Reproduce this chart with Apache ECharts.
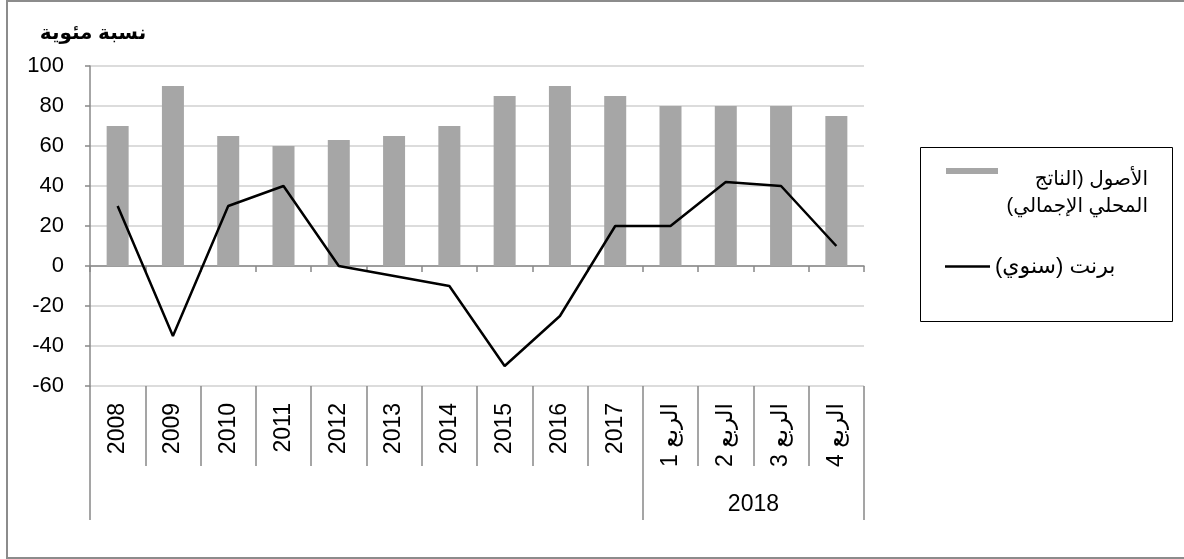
<!DOCTYPE html>
<html dir="rtl">
<head>
<meta charset="utf-8">
<script src="https://cdn.jsdelivr.net/npm/echarts@6/dist/echarts.min.js"></script>
<style>
  html, body { margin: 0; padding: 0; background: #fff; }
  #chart { width: 1184px; height: 559px; }
</style>
</head>
<body>
<div id="chart"></div>
<script>
// categories and values
var categories = ['2008', '2009', '2010', '2011', '2012', '2013', '2014', '2015', '2016', '2017',
                  'الربع 1', 'الربع 2', 'الربع 3', 'الربع 4'];
var assets = [70, 90, 65, 60, 63, 65, 70, 85, 90, 85, 80, 80, 80, 75];
var brent = [30, -35, 30, 40, 0, -5, -10, -50, -25, 20, 20, 42, 40, 10];
var groupLabels = ['', '2018'];
var groupSizes = [10, 4];
var yTicks = [-60, -40, -20, 0, 20, 40, 60, 80, 100];

var assetsName = 'الأصول (الناتج\nالمحلي الإجمالي)';
var brentName = 'برنت (سنوي)';

// group boundaries / centres on a 0..n value scale
var groupEdges = [0];
var groupCentres = [];
groupSizes.forEach(function (s) {
  var start = groupEdges[groupEdges.length - 1];
  groupEdges.push(start + s);
  groupCentres.push(start + s / 2);
});

var FONT = '"Liberation Sans", "DejaVu Sans", Arial, sans-serif';
var LRM = '\u200E'; // keep "-20" readable inside the rtl page
var chart = echarts.init(document.getElementById('chart'));

chart.setOption({
  animation: false,
  textStyle: { fontFamily: FONT },
  title: {
    text: 'نسبة مئوية',
    left: 88,
    top: 18,
    textAlign: 'center',
    textStyle: { fontFamily: FONT, fontSize: 20, fontWeight: 'bold', color: '#000' }
  },
  grid: { left: 90, right: 320, top: 66, bottom: 173, containLabel: false },
  legend: [
    {
      data: [{ name: assetsName, icon: 'rect' }],
      orient: 'vertical',
      left: 946,
      top: 168,
      padding: 0,
      itemWidth: 52,
      itemHeight: 6,
      itemGap: 0,
      selectedMode: false,
      formatter: function (name) {
        return name.split('\n').map(function (l) { return '{t|' + l + '}'; }).join('\n');
      },
      textStyle: {
        padding: [44, 0, 0, 0],
        rich: {
          t: { width: 145, align: 'right', fontSize: 20, lineHeight: 27, fontFamily: FONT, color: '#000' }
        }
      }
    },
    {
      data: [{ name: brentName, icon: 'rect' }],
      orient: 'vertical',
      left: 945,
      top: 252,
      padding: 0,
      itemWidth: 45,
      itemHeight: 2.5,
      selectedMode: false,
      textStyle: { fontSize: 22, lineHeight: 29, fontFamily: FONT, color: '#000' }
    }
  ],
  xAxis: [
    {
      type: 'category',
      data: categories,
      position: 'bottom',
      axisLine: { onZero: true, lineStyle: { color: '#888', width: 1.5 } },
      axisTick: { show: true, length: 6, lineStyle: { color: '#888', width: 1.5 } },
      axisLabel: { show: false },
      splitLine: { show: false }
    },
    {
      type: 'category',
      data: categories,
      position: 'bottom',
      axisLine: { show: false, onZero: false },
      axisTick: { show: true, length: 80, lineStyle: { color: '#888', width: 1.5 } },
      axisLabel: { rotate: 90, margin: 17, fontSize: 23, color: '#000', fontFamily: FONT },
      splitLine: { show: false }
    },
    {
      type: 'value',
      min: 0,
      max: categories.length,
      position: 'bottom',
      axisLine: { show: false, onZero: false },
      axisTick: { show: true, length: 134, customValues: groupEdges, lineStyle: { color: '#888', width: 1.5 } },
      axisLabel: {
        customValues: groupCentres,
        margin: 107,
        fontSize: 23,
        color: '#000',
        fontFamily: FONT,
        formatter: function (v) {
          var i = groupCentres.indexOf(v);
          return i >= 0 ? groupLabels[i] : '';
        }
      },
      splitLine: { show: false }
    }
  ],
  yAxis: {
    type: 'value',
    min: yTicks[0],
    max: yTicks[yTicks.length - 1],
    interval: yTicks[1] - yTicks[0],
    axisLine: { show: true, onZero: false, lineStyle: { color: '#888', width: 1.5 } },
    axisTick: { show: true, length: 5, lineStyle: { color: '#888', width: 1.5 } },
    axisLabel: {
      fontSize: 22, color: '#000', margin: 26, fontFamily: FONT,
      formatter: function (v) { return LRM + v; }
    },
    splitLine: { show: true, lineStyle: { color: '#d0d0d0', width: 1.5 } }
  },
  series: [
    {
      name: assetsName,
      type: 'bar',
      xAxisIndex: 0,
      data: assets,
      barWidth: 22,
      itemStyle: { color: '#a6a6a6' }
    },
    {
      name: brentName,
      type: 'line',
      xAxisIndex: 0,
      data: brent,
      symbol: 'none',
      lineStyle: { color: '#000', width: 2.5 },
      itemStyle: { color: '#000' }
    }
  ],
  graphic: [
    {
      type: 'rect',
      shape: { x: 7, y: 1, width: 1200, height: 557 },
      style: { fill: 'none', stroke: '#8c8c8c', lineWidth: 2 },
      silent: true
    },
    {
      type: 'rect',
      shape: { x: 920.5, y: 147.5, width: 252, height: 174 },
      style: { fill: 'none', stroke: '#000', lineWidth: 1 },
      silent: true
    }
  ]
});
</script>
</body>
</html>
